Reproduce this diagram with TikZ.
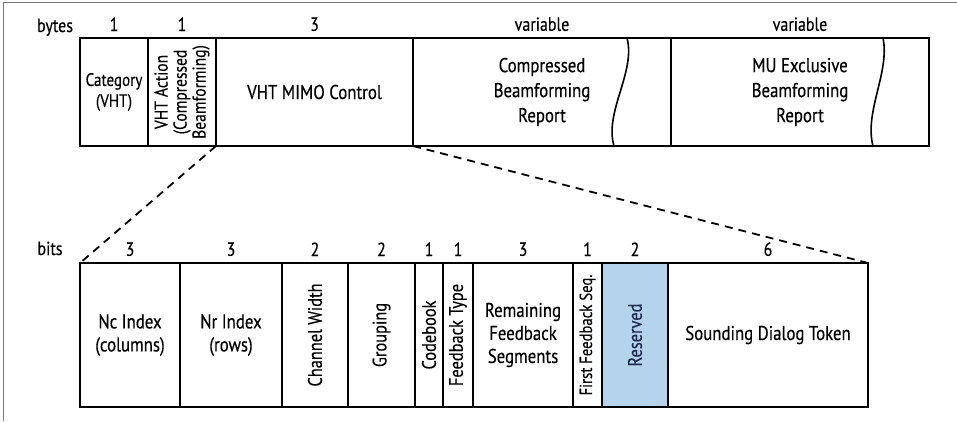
\documentclass[tikz,border=0pt]{standalone}
\usepackage{fontspec}
\setmainfont{PT Sans}[FakeStretch=0.84, FakeBold=0.35]
\usetikzlibrary{positioning}

\definecolor{resfill}{RGB}{182,211,236}
\definecolor{restext}{RGB}{28,42,78}
\definecolor{framegray}{RGB}{120,120,120}

\begin{document}
\begin{tikzpicture}[x=1pt, y=-1pt, line width=2pt, node distance=0pt,
    field/.style={draw, outer sep=0pt, inner sep=1pt, minimum height=108pt,
                  align=center, font=\fontsize{20}{25}\selectfont},
    bitfield/.style={field, minimum height=144pt, font=\fontsize{20}{23}\selectfont},
    vtext/.style={rotate=90, align=center, inner sep=0pt,
                  font=\fontsize{19.5}{19.5}\selectfont},
    count/.style={inner sep=0pt, font=\fontsize{19}{19}\selectfont},
    wavy/.style={line width=1.6pt},
    zoomline/.style={dash pattern=on 8pt off 6pt, line width=1.8pt}]

  \useasboundingbox (0,0) rectangle (957,421);
  \draw[framegray, line width=1pt] (3,421) -- (3,2) -- (957,2);

  % byte fields
  \node[field, minimum width=68pt, anchor=north west,
        font=\fontsize{18}{21}\selectfont] (cat) at (80,38) {Category\\(VHT)};
  \node[field, minimum width=68pt, right=of cat,
        label={[vtext, font=\fontsize{18.5}{19}\selectfont]center:{VHT Action\\(Compressed\\Beamforming)}}] (act) {};
  \node[field, minimum width=197pt, right=of act] (mimo) {VHT MIMO Control};
  \node[field, minimum width=258pt, right=of mimo] (cbr) {Compressed\\Beamforming\\Report};
  \node[field, minimum width=258pt, right=of cbr] (mu) {MU Exclusive\\Beamforming\\Report};

  % torn edges
  \draw[wavy] (627,38) .. controls (636,72) and (604,112) .. (614,146);
  \draw[wavy] (883,38) .. controls (890,72) and (864,112) .. (873,146);

  % bit fields
  \node[bitfield, minimum width=100pt, anchor=north west] (nc) at (80,263) {Nc Index\\(columns)};
  \node[bitfield, minimum width=102pt, right=of nc] (nr) {Nr Index\\(rows)};
  \node[bitfield, minimum width=66pt, right=of nr, label={[vtext]center:Channel Width}] (cw) {};
  \node[bitfield, minimum width=67pt, right=of cw, label={[vtext]center:Grouping}] (grp) {};
  \node[bitfield, minimum width=28pt, right=of grp, label={[vtext]center:Codebook}] (cb) {};
  \node[bitfield, minimum width=30pt, right=of cb, label={[vtext]center:Feedback Type}] (fbt) {};
  \node[bitfield, minimum width=100pt, right=of fbt] (rfs) {Remaining\\Feedback\\Segments};
  \node[bitfield, minimum width=29pt, right=of rfs,
        label={[vtext, font=\fontsize{17.5}{17.5}\selectfont]center:First Feedback Seq.}] (ffs) {};
  \node[bitfield, minimum width=66pt, right=of ffs, fill=resfill,
        label={[vtext, text=restext]center:Reserved}] (res) {};
  \node[bitfield, minimum width=200pt, right=of res] (sdt) {Sounding Dialog Token};

  % sizes
  \node[count, anchor=base] (bytes) at (55,32) {bytes};
  \node[count, anchor=base] (bits) at (50,255) {bits};
  \foreach \f/\n in {cat/1, act/1, mimo/3, cbr/variable, mu/variable,
                     nc/3, nr/3, cw/2, grp/2, cb/1, fbt/1, rfs/3, ffs/1, res/2, sdt/6}
    \node[count, above=6pt of \f] (n\f) {\n};

  % zoom lines
  \draw[zoomline] (mimo.south west) -- (nc.north west);
  \draw[zoomline] (mimo.south east) -- (sdt.north east);
\end{tikzpicture}
\end{document}
